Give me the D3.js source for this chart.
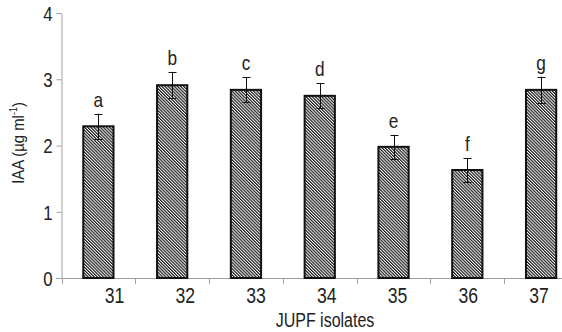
<!DOCTYPE html>
<meta charset="utf-8">
<html>
<head>
    <style>
        body { margin: 0; background: #fff; }
        text { font-family: "Liberation Sans", Arial, sans-serif; fill: #222; }
        .axis path, .axis line { stroke: #a0a0a0; stroke-width: 1px; }
    </style>
    <script src="https://cdn.jsdelivr.net/npm/d3@7/dist/d3.min.js"></script>
</head>
<body>
<div id="chart"></div>
<script>
    const isolates = ["31", "32", "33", "34", "35", "36", "37"];
    const iaa = [2.29, 2.91, 2.84, 2.75, 1.98, 1.63, 2.84];
    const errs = [0.19, 0.2, 0.19, 0.19, 0.18, 0.18, 0.2];
    const letters = ["a", "b", "c", "d", "e", "f", "g"];
    const yTicks = [0, 1, 2, 3, 4];

    const W = 562, H = 332;
    const NARROW = 0.8; // no narrow font installed, squeeze instead

    const svg = d3.select("#chart").append("svg")
        .attr("width", W).attr("height", H);

    // hatch fill
    const pat = svg.append("defs").append("pattern")
        .attr("id", "hatch")
        .attr("patternUnits", "userSpaceOnUse")
        .attr("width", 2.2).attr("height", 2.2)
        .attr("patternTransform", "rotate(-45)");
    pat.append("rect").attr("width", 2.2).attr("height", 2.2).attr("fill", "#fff");
    pat.append("rect").attr("width", 1.2).attr("height", 2.2).attr("fill", "#1a1a1a");

    const x = d3.scaleBand().domain(isolates).range([61.5, 578]);
    // the labels sit on a slightly compressed spacing in the original
    const xLab = d3.scalePoint().domain(isolates).range([114.5, 539]);
    const y = d3.scaleLinear().domain([0, 4]).range([278, 13]);
    const bw = x.bandwidth() * 0.41;

    function squeeze(sel, px, py, sx) {
        sel.attr("x", 0).attr("y", 0)
            .attr("transform", (d, i) => "translate(" + px(d, i) + "," + py(d, i) + ") scale(" + sx + ",1)");
    }

    // y axis
    const yAxis = svg.append("g").attr("class", "axis")
        .attr("transform", "translate(61.5,0)")
        .call(d3.axisLeft(y).tickValues(yTicks).tickSize(5).tickSizeOuter(0).tickFormat(d3.format("d")));
    yAxis.selectAll("text")
        .attr("font-size", 21).attr("dy", "0.35em").style("fill", "#222")
        .call(squeeze, () => -9, () => 0, NARROW);

    // x axis line + ticks between groups
    const xa = svg.append("g").attr("class", "axis");
    xa.append("line").attr("x1", 56).attr("x2", W).attr("y1", y(0) + 0.5).attr("y2", y(0) + 0.5);
    xa.selectAll(".xt").data(isolates).enter().append("line")
        .attr("x1", d => Math.round(x(d)) + 0.5).attr("x2", d => Math.round(x(d)) + 0.5)
        .attr("y1", y(0)).attr("y2", y(0) + 6);

    // bars
    svg.selectAll(".bar").data(iaa).enter().append("rect")
        .attr("x", (d, i) => x(isolates[i]) + x.bandwidth() / 2 - bw / 2)
        .attr("y", d => y(d))
        .attr("width", bw)
        .attr("height", d => y(0) - y(d))
        .attr("fill", "url(#hatch)")
        .attr("stroke", "#111")
        .attr("stroke-width", 2);

    // error bars
    const eb = svg.selectAll(".err").data(iaa).enter().append("g")
        .attr("stroke", "#111").attr("stroke-width", 1);
    const cx = i => Math.round(x(isolates[i]) + x.bandwidth() / 2) + 0.5;
    eb.append("line")
        .attr("x1", (d, i) => cx(i)).attr("x2", (d, i) => cx(i))
        .attr("y1", (d, i) => y(d + errs[i])).attr("y2", (d, i) => y(d - errs[i]));
    eb.append("line")
        .attr("x1", (d, i) => cx(i) - 4).attr("x2", (d, i) => cx(i) + 4)
        .attr("y1", (d, i) => Math.round(y(d + errs[i])) + 0.5).attr("y2", (d, i) => Math.round(y(d + errs[i])) + 0.5);
    eb.append("line")
        .attr("x1", (d, i) => cx(i) - 4).attr("x2", (d, i) => cx(i) + 4)
        .attr("y1", (d, i) => Math.round(y(d - errs[i])) + 0.5).attr("y2", (d, i) => Math.round(y(d - errs[i])) + 0.5);

    // significance letters
    svg.selectAll(".lett").data(letters).enter().append("text")
        .attr("text-anchor", "middle")
        .attr("font-size", 21)
        .text(d => d)
        .call(squeeze, (d, i) => x(isolates[i]) + x.bandwidth() / 2, (d, i) => y(iaa[i] + errs[i]) - 7, 0.82);

    // x tick labels
    svg.selectAll(".xl").data(isolates).enter().append("text")
        .attr("text-anchor", "middle")
        .attr("font-size", 22)
        .text(d => d)
        .call(squeeze, d => xLab(d), () => 303, NARROW);

    // axis titles
    svg.append("text")
        .attr("text-anchor", "middle")
        .attr("font-size", 20)
        .text("JUPF isolates")
        .call(squeeze, () => 325, () => 327, NARROW);

    const yt = svg.append("text")
        .attr("transform", "translate(24,143) rotate(-90) scale(0.9,1)")
        .attr("text-anchor", "middle")
        .attr("font-size", 16.5);
    yt.append("tspan").text("IAA (µg ml");
    yt.append("tspan").attr("font-size", 10).attr("dy", -7).text("-1");
    yt.append("tspan").attr("dy", 7).text(")");
</script>
</body>
</html>
